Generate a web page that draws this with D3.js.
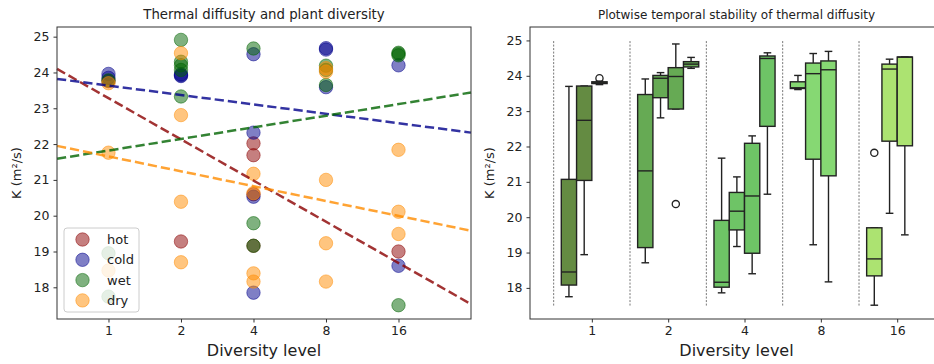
<!DOCTYPE html>
<html>
<head>
<meta charset="utf-8">
<script src="https://cdn.jsdelivr.net/npm/d3@7"></script>
<style>
  body { margin: 0; background: #fff; }
  text { font-family: "DejaVu Sans", sans-serif; fill: #222; }
</style>
</head>
<body>
<svg id="chart" width="934" height="364"></svg>
<script>
// diversity levels (x categories)
const levels = [1, 2, 4, 8, 16];
const groups = ["hot", "cold", "wet", "dry"];

// left panel: [level, K] per group
const hotPts = [[1,23.76],[2,19.28],[4,22.02],[4,21.69],[4,20.6],[4,19.16],[16,19.0]];
const coldPts = [[1,23.96],[1,23.85],[2,23.95],[2,23.92],[2,23.9],[4,24.51],[4,22.32],[4,20.53],[4,17.85],
  [8,24.68],[8,24.64],[8,23.59],[16,24.2],[16,18.6]];
const wetPts = [[1,23.78],[1,18.95],[1,17.74],[2,24.91],[2,24.3],[2,24.2],[2,24.07],[2,23.33],[4,24.67],
  [4,19.79],[4,19.16],[8,24.19],[8,24.07],[8,23.65],[16,24.55],[16,24.52],[16,24.48],[16,17.5]];
const dryPts = [[1,23.7],[1,21.76],[1,18.47],[2,24.54],[2,22.81],[2,20.39],[2,18.7],[4,21.17],[4,20.63],
  [4,18.39],[4,18.16],[8,24.12],[8,24.02],[8,21.0],[8,19.23],[8,18.16],[16,21.84],[16,20.11],[16,19.49]];

// fitted trend lines: K at left and right edge of the axes
const trendStart = [24.10, 23.82, 21.59, 21.95];
const trendEnd = [17.53, 22.32, 23.44, 19.58];

// right panel: box stats [low whisker, q1, median, q3, high whisker] per plot slot
const boxStats = [
  [[17.75,18.08,18.45,21.07,23.70],[18.94,21.04,22.74,23.71,23.71],[23.75,23.78,23.80,23.83,23.85],null],
  [[18.71,19.14,21.31,23.47,23.91],[22.81,23.38,23.93,24.01,24.09],[23.06,23.06,23.98,24.23,24.90],[24.21,24.25,24.33,24.40,24.52]],
  [[17.86,18.02,18.16,19.91,21.67],[19.17,19.64,20.17,20.70,21.14],[18.40,18.98,20.60,22.09,22.30],[20.65,22.57,24.49,24.56,24.65]],
  [[23.61,23.64,23.66,23.83,24.01],[19.22,21.64,24.06,24.36,24.63],[18.17,21.17,24.17,24.42,24.69],null],
  [[17.51,18.34,18.82,19.70,19.70],[20.11,22.15,24.19,24.33,24.47],[19.50,22.02,24.53,24.53,24.53],null]
];
// outliers: [level index, slot, K]
const outliers = [[0,2,23.93],[1,2,20.37],[4,0,21.82]];

const yTicks = [18, 19, 20, 21, 22, 23, 24, 25];
const pointColors = ["#8b0000", "#00008b", "#006400", "#ff8c00"];
const boxColors = ["#648b42", "#66aa54", "#6ec466", "#86d873", "#ace371"];

const svg = d3.select("#chart");

function axes(g, x, y, title, titleSize) {
  g.append("g").attr("transform", `translate(0,${y.range()[0]})`)
    .call(d3.axisBottom(x).tickValues(d3.range(levels.length)).tickFormat(i => levels[i]).tickSize(3.5).tickPadding(4))
    .call(a => a.select(".domain").remove())
    .selectAll("text").attr("font-size", 12.5);
  g.append("g").attr("transform", `translate(${x.range()[0]},0)`)
    .call(d3.axisLeft(y).tickValues(yTicks).tickSize(3.5).tickPadding(4))
    .call(a => a.select(".domain").remove())
    .selectAll("text").attr("font-size", 12.5);
  g.selectAll(".tick line").attr("stroke", "#333");
  const [x0, x1] = x.range(), [y1, y0] = y.range();
  g.append("rect").attr("x", x0).attr("y", y0).attr("width", x1 - x0).attr("height", y1 - y0)
    .attr("fill", "none").attr("stroke", "#333").attr("stroke-width", 1);
  const cx = (x0 + x1) / 2;
  g.append("text").attr("x", cx).attr("y", 19).attr("text-anchor", "middle")
    .attr("font-size", titleSize).text(title);
  g.append("text").attr("x", cx).attr("y", 356).attr("text-anchor", "middle")
    .attr("font-size", 16).text("Diversity level");
  g.append("text").attr("transform", `translate(${x0 - 36},${(y0 + y1) / 2}) rotate(-90)`)
    .attr("text-anchor", "middle").attr("font-size", 13).text("K (m²/s)");
}

// ---- left panel ----
const xL = d3.scaleLinear().domain([-0.71, 5.0]).range([57, 471]);
const yL = d3.scaleLinear().domain([17.115, 25.27]).range([319, 27]);
const gL = svg.append("g");
const allPts = [hotPts, coldPts, wetPts, dryPts];
const lvlIdx = v => levels.indexOf(v);

allPts.forEach((pts, gi) => {
  gL.append("g").selectAll("circle").data(pts).join("circle")
    .attr("cx", d => xL(lvlIdx(d[0]))).attr("cy", d => yL(d[1])).attr("r", 6.7)
    .attr("fill", pointColors[gi]).attr("fill-opacity", 0.5)
    .attr("stroke", pointColors[gi]).attr("stroke-opacity", 0.5).attr("stroke-width", 1);
});
groups.forEach((g, gi) => {
  const dom = xL.domain();
  gL.append("line")
    .attr("x1", xL(dom[0])).attr("y1", yL(trendStart[gi]))
    .attr("x2", xL(dom[1])).attr("y2", yL(trendEnd[gi]))
    .attr("stroke", pointColors[gi]).attr("stroke-opacity", 0.8)
    .attr("stroke-width", 2.5).attr("stroke-dasharray", "9.25,4");
});
axes(gL, xL, yL, "Thermal diffusity and plant diversity", 13.3);

// legend
const leg = gL.append("g").attr("transform", "translate(64,228)");
leg.append("rect").attr("width", 75).attr("height", 84).attr("rx", 3)
  .attr("fill", "#fff").attr("fill-opacity", 0.8).attr("stroke", "#ccc");
groups.forEach((g, gi) => {
  const row = leg.append("g").attr("transform", `translate(0,${11.5 + gi * 20.3})`);
  row.append("circle").attr("cx", 18.5).attr("r", 6.7)
    .attr("fill", pointColors[gi]).attr("fill-opacity", 0.5)
    .attr("stroke", pointColors[gi]).attr("stroke-opacity", 0.5);
  row.append("text").attr("x", 43).attr("y", 4.5).attr("font-size", 13).text(g);
});

// ---- right panel ----
const xR = d3.scaleLinear().domain([-0.81, 4.6]).range([530, 943]);
const yR = d3.scaleLinear().domain([17.12, 25.38]).range([319, 27]);
const slot = d3.scaleBand().domain(d3.range(4)).range([-0.4, 0.4]);
const gR = svg.append("g");

d3.range(levels.length).forEach(i => {
  gR.append("line").attr("x1", xR(i - 0.5)).attr("x2", xR(i - 0.5))
    .attr("y1", yR(17.5)).attr("y2", yR(25))
    .attr("stroke", "#555").attr("stroke-width", 0.8).attr("stroke-dasharray", "2,1.5");
});

boxStats.forEach((stats, li) => {
  stats.forEach((s, si) => {
    if (!s) return;
    const xa = xR(li + slot(si)), xb = xR(li + slot(si) + slot.bandwidth());
    const xm = (xa + xb) / 2, cw = (xb - xa) / 4;
    const b = gR.append("g").attr("stroke", "#222").attr("stroke-width", 1.4);
    b.append("line").attr("x1", xm).attr("x2", xm).attr("y1", yR(s[0])).attr("y2", yR(s[1]));
    b.append("line").attr("x1", xm).attr("x2", xm).attr("y1", yR(s[3])).attr("y2", yR(s[4]));
    b.append("line").attr("x1", xm - cw).attr("x2", xm + cw).attr("y1", yR(s[0])).attr("y2", yR(s[0]));
    b.append("line").attr("x1", xm - cw).attr("x2", xm + cw).attr("y1", yR(s[4])).attr("y2", yR(s[4]));
    b.append("rect").attr("x", xa).attr("width", xb - xa)
      .attr("y", yR(s[3])).attr("height", Math.max(yR(s[1]) - yR(s[3]), 1))
      .attr("fill", boxColors[li]);
    b.append("line").attr("x1", xa).attr("x2", xb).attr("y1", yR(s[2])).attr("y2", yR(s[2]));
  });
});
gR.selectAll(".outlier").data(outliers).join("circle")
  .attr("cx", d => xR(d[0] + slot(d[1]) + slot.bandwidth() / 2)).attr("cy", d => yR(d[2]))
  .attr("r", 3.6).attr("fill", "none").attr("stroke", "#222").attr("stroke-width", 1.3);

axes(gR, xR, yR, "Plotwise temporal stability of thermal diffusity", 12);
</script>
</body>
</html>
